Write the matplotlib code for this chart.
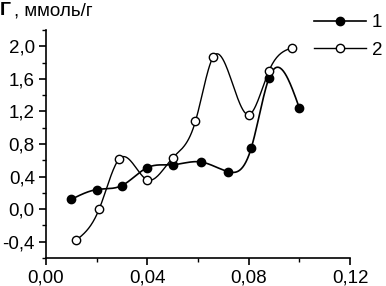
import numpy as np
import matplotlib
matplotlib.use("Agg")
from matplotlib import pyplot as plt
from matplotlib.ticker import FuncFormatter, MultipleLocator
from matplotlib.lines import Line2D

# series 1 (filled markers)
x1 = [0.010, 0.020, 0.030, 0.040, 0.050, 0.061, 0.072, 0.081, 0.088, 0.100]
y1 = [0.12, 0.24, 0.29, 0.51, 0.545, 0.58, 0.46, 0.75, 1.61, 1.24]
# series 2 (open markers)
x2 = [0.012, 0.021, 0.029, 0.040, 0.050, 0.059, 0.066, 0.080, 0.088, 0.097]
y2 = [-0.38, 0.0, 0.62, 0.36, 0.63, 1.08, 1.87, 1.16, 1.70, 1.98]
labels = ["1", "2"]


# natural cubic spline, used only to draw the smooth connecting line
def spline(xs, ys, n=300):
    xs = np.asarray(xs, float)
    ys = np.asarray(ys, float)
    k = len(xs)
    h = np.diff(xs)
    A = np.zeros((k, k))
    b = np.zeros(k)
    A[0, 0] = 1
    A[-1, -1] = 1
    for i in range(1, k - 1):
        A[i, i - 1] = h[i - 1]
        A[i, i] = 2 * (h[i - 1] + h[i])
        A[i, i + 1] = h[i]
        b[i] = 3 * ((ys[i + 1] - ys[i]) / h[i] - (ys[i] - ys[i - 1]) / h[i - 1])
    c = np.linalg.solve(A, b)
    xx = np.linspace(xs[0], xs[-1], n)
    yy = np.empty_like(xx)
    for j, t in enumerate(xx):
        i = min(np.searchsorted(xs, t, side="right") - 1, k - 2)
        dx = t - xs[i]
        bi = (ys[i + 1] - ys[i]) / h[i] - h[i] * (2 * c[i] + c[i + 1]) / 3
        di = (c[i + 1] - c[i]) / (3 * h[i])
        yy[j] = ys[i] + bi * dx + c[i] * dx ** 2 + di * dx ** 3
    return xx, yy


plt.rcParams['font.family'] = ['Liberation Sans', 'DejaVu Sans']

fig = plt.figure(figsize=(3.86, 2.86), dpi=100)
ax = fig.add_axes([0.119, 0.098, 0.788, 0.797])

sx, sy = spline(x1, y1)
ax.plot(sx, sy, color='black', lw=1.2)
ax.plot(x1, y1, 'o', color='black', ms=6, mec='black')

sx, sy = spline(x2, y2)
ax.plot(sx, sy, color='black', lw=1.0)
ax.plot(x2, y2, 'o', mfc='white', mec='black', ms=6, mew=1)

ax.set_xlim(0, 0.12)
ax.set_ylim(-0.6, 2.2)
ax.xaxis.set_major_locator(MultipleLocator(0.04))
ax.xaxis.set_minor_locator(MultipleLocator(0.02))
ax.yaxis.set_major_locator(MultipleLocator(0.4))
ax.yaxis.set_minor_locator(MultipleLocator(0.2))
ax.xaxis.set_major_formatter(FuncFormatter(lambda v, p: ("%.2f" % v).replace(".", ",")))
ax.yaxis.set_major_formatter(FuncFormatter(lambda v, p: ("%.1f" % v).replace(".", ",")))
for s in ['top', 'right']:
    ax.spines[s].set_visible(False)
for s in ['left', 'bottom']:
    ax.spines[s].set_linewidth(1.2)
ax.tick_params(which='major', length=5, width=1.2, labelsize=13.5, pad=3)
ax.tick_params(which='minor', length=3, width=1)

fig.text(0.0, 0.962, "Г", fontsize=14, fontweight='bold', va='center')
fig.text(0.035, 0.962, ", ммоль/г", fontsize=13.5, va='center')

handles = [
    Line2D([], [], color='black', lw=1.2, marker='o', ms=6, mfc='black', mec='black'),
    Line2D([], [], color='black', lw=1.0, marker='o', ms=6, mfc='white', mec='black'),
]
fig.legend(handles, labels, loc='upper right', bbox_to_anchor=(0.99, 0.95),
           frameon=False, fontsize=13.5, handlelength=2.8, handletextpad=0.3,
           labelspacing=0.55, borderaxespad=0, borderpad=0)

fig.savefig("out.png", dpi=100)
